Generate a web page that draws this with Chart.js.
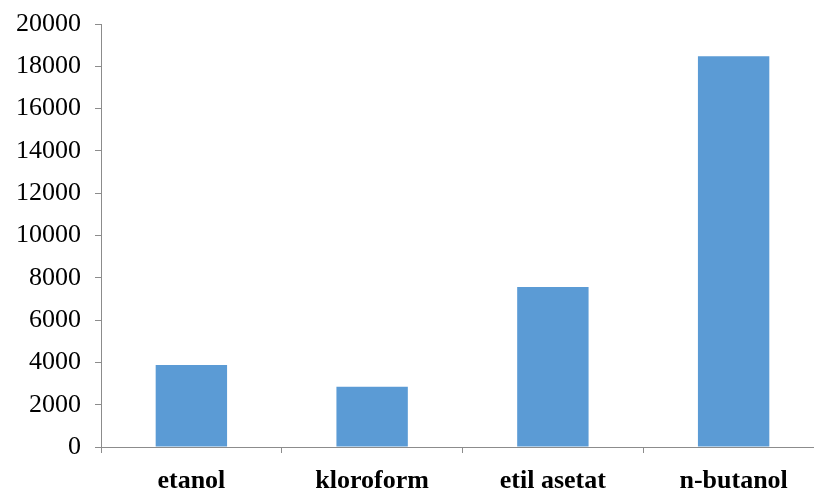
<!DOCTYPE html>
<html>
<head>
<meta charset="utf-8">
<script src="https://cdn.jsdelivr.net/npm/chart.js@4/dist/chart.umd.min.js"></script>
<style>
  html, body { margin: 0; padding: 0; background: #fff; overflow: hidden; }
  #wrap { position: relative; width: 830px; height: 491px; }
</style>
</head>
<body>
<div id="wrap"><canvas id="myChart"></canvas></div>
<script>
// values
var solvents = ['etanol', 'kloroform', 'etil asetat', 'n-butanol'];
var values = [3880, 2850, 7560, 18470];
var yTicks = [0, 2000, 4000, 6000, 8000, 10000, 12000, 14000, 16000, 18000, 20000];

var axisColor = '#8c8c8c';

try {
  const ctx = document.getElementById('myChart').getContext('2d');
  const myChart = new Chart(ctx, {
    type: 'bar',
    data: {
      labels: solvents,
      datasets: [{
        data: values,
        backgroundColor: '#5b9bd5',
        borderWidth: 0,
        categoryPercentage: 1.0,
        barPercentage: 0.395
      }]
    },
    options: {
      responsive: true,
      maintainAspectRatio: false,
      animation: false,
      layout: { padding: { top: 24, right: 6, left: 0, bottom: 0 } },
      plugins: { legend: { display: false }, tooltip: { enabled: false } },
      scales: {
        x: {
          afterFit: function(scale) { scale.height = 44; },
          grid: { drawOnChartArea: false, drawTicks: true, tickLength: 6, color: axisColor, offset: true },
          border: { color: axisColor, width: 1 },
          ticks: { color: '#000', padding: 13, maxRotation: 0,
                   font: { family: 'Liberation Serif', size: 26, weight: 'bold' } }
        },
        y: {
          min: 0,
          max: 20000,
          afterBuildTicks: function(scale) {
            scale.ticks = yTicks.map(function(v) { return { value: v }; });
          },
          afterFit: function(scale) {
            scale.width = 101;
            scale.paddingTop = 0;
            scale.paddingBottom = 0;
          },
          grid: { drawOnChartArea: false, drawTicks: true, tickLength: 6, color: axisColor },
          border: { color: axisColor, width: 1 },
          ticks: { color: '#000', padding: 14,
                   callback: function(v) { return String(v); },
                   font: { family: 'Liberation Serif', size: 26 } }
        }
      }
    }
  });
} catch (e) {
  console.log(e.message);
}
</script>
</body>
</html>
